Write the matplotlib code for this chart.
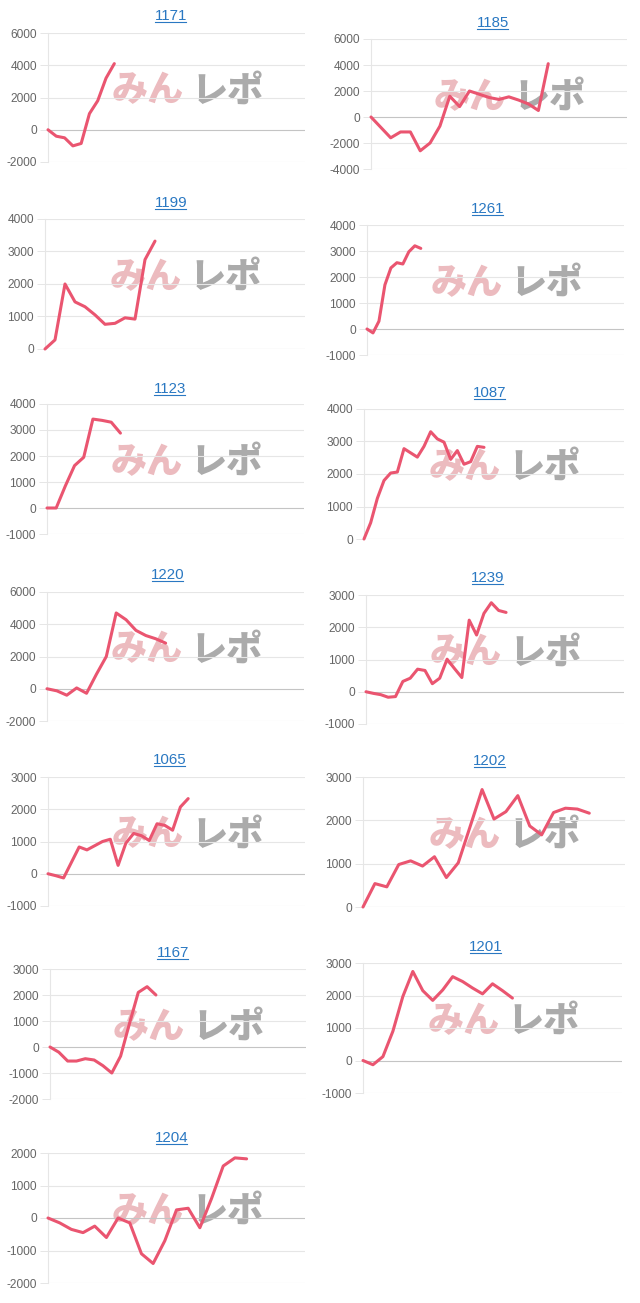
import matplotlib
matplotlib.use("Agg")
import matplotlib.pyplot as plt
from matplotlib.lines import Line2D
from matplotlib.transforms import IdentityTransform

# ---------------- data ----------------
titles = ["1171", "1185", "1199", "1261", "1123", "1087", "1220",
          "1239", "1065", "1202", "1167", "1201", "1204"]

s1171 = [0, -400, -500, -1000, -850, 1000, 1800, 3200, 4100]
s1185 = [0, -800, -1600, -1150, -1150, -2600, -2000, -700, 1600, 800, 2000,
         1750, 1500, 1350, 1550, 1300, 1000, 500, 4100]
s1199 = [0, 280, 2000, 1450, 1300, 1050, 760, 790, 960, 920, 2750, 3320]
s1261 = [0, -150, 300, 1700, 2350, 2550, 2500, 2970, 3200, 3100]
s1123 = [0, 0, 850, 1630, 1950, 3420, 3370, 3300, 2880]
s1087 = [0, 500, 1250, 1800, 2030, 2060, 2780, 2650, 2520, 2850, 3300, 3080,
         2980, 2450, 2720, 2300, 2380, 2850, 2820]
s1220 = [0, -130, -400, 50, -280, 900, 2000, 4700, 4280, 3620, 3300, 3100, 2830]
s1239 = [0, -50, -90, -170, -150, 320, 420, 700, 660, 250, 420, 1010, 720, 440,
         2220, 1760, 2430, 2760, 2520, 2460]
s1065 = [0, -60, -130, 350, 830, 740, 870, 1000, 1070, 260, 950, 1250, 1180,
         1030, 1550, 1500, 1350, 2070, 2330]
s1202 = [0, 540, 465, 980, 1065, 945, 1160, 680, 1020, 1860, 2710, 2030, 2200,
         2570, 1870, 1665, 2180, 2280, 2260, 2165]
s1167 = [0, -200, -540, -540, -450, -500, -720, -1000, -350, 900, 2100, 2320, 2000]
s1201 = [0, -130, 120, 900, 1970, 2740, 2150, 1850, 2170, 2580, 2430, 2230,
         2050, 2360, 2150, 1920]
s1204 = [0, -150, -350, -450, -250, -600, 0, -150, -1100, -1400, -700, 250,
         300, -300, 600, 1600, 1850, 1820]

series = [s1171, s1185, s1199, s1261, s1123, s1087, s1220,
          s1239, s1065, s1202, s1167, s1201, s1204]

# number of category slots on each x axis
slots = [32, 27, 27, 44, 29, 40, 27, 36, 34, 23, 30, 27, 23]

yticks = [
    [-2000, 0, 2000, 4000, 6000],
    [-4000, -2000, 0, 2000, 4000, 6000],
    [0, 1000, 2000, 3000, 4000],
    [-1000, 0, 1000, 2000, 3000, 4000],
    [-1000, 0, 1000, 2000, 3000, 4000],
    [0, 1000, 2000, 3000, 4000],
    [-2000, 0, 2000, 4000, 6000],
    [-1000, 0, 1000, 2000, 3000],
    [-1000, 0, 1000, 2000, 3000],
    [0, 1000, 2000, 3000],
    [-2000, -1000, 0, 1000, 2000, 3000],
    [-1000, 0, 1000, 2000, 3000],
    [-2000, -1000, 0, 1000, 2000],
]

# ---------------- layout (pixels) ----------------
W, H = 640, 1303
# left, right, top, bottom of plot area; title centre x, title baseline y
boxes = [
    (48, 305, 33, 162, 171, 20),
    (371, 627, 39, 169, 493, 27),
    (45, 305, 219, 349, 171, 207),
    (367, 624, 225, 355, 488, 213),
    (47, 304, 404, 534, 170, 393),
    (364, 624, 409, 539, 490, 397),
    (47, 304, 592, 721, 168, 579),
    (366, 624, 595, 724, 488, 582),
    (48, 305, 777, 906, 170, 764),
    (363, 625, 777, 907, 490, 765),
    (50, 306, 969, 1099, 173, 957),
    (363, 622, 963, 1093, 486, 951),
    (48, 305, 1153, 1283, 172, 1142),
]

LINE = "#ea5570"
GRID = "#e6e6e6"
ZERO = "#c4c4c4"
TICK = "#666666"
TITLE = "#2a78c2"

plt.rcParams["font.family"] = ["Liberation Sans", "DejaVu Sans"]

fig = plt.figure(figsize=(W / 100, H / 100), dpi=100)
fig.patch.set_facecolor("white")

title_texts = []
for i, (vals, n, yt, box) in enumerate(zip(series, slots, yticks, boxes)):
    l, r, t, b, tx, ty = box
    ax = fig.add_axes([l / W, 1 - b / H, (r - l) / W, (b - t) / H])
    ax.set_xlim(0, n - 1)
    ax.set_ylim(yt[0], yt[-1])
    ax.set_yticks(yt)
    ax.set_yticklabels([str(v) for v in yt])
    ax.set_xticks([])
    for s in ["top", "right", "bottom"]:
        ax.spines[s].set_visible(False)
    ax.spines["left"].set_color(GRID)
    ax.spines["left"].set_linewidth(0.8)
    ax.tick_params(axis="y", length=6, width=0.7, color=GRID, pad=2,
                   labelsize=8.6, labelcolor=TICK)
    for v in yt:
        ax.axhline(v, color=ZERO if v == 0 else GRID, lw=0.8, zorder=0)

    # watermark
    cx = (l + r) / 2 + 11
    cy = (t + b) / 2 - 7
    fig.text((cx - 40) / W, 1 - cy / H, "みん", ha="center", va="center",
             fontsize=26, fontweight="heavy", color="#ecbbbf",
             family=["Noto Sans CJK JP", "DejaVu Sans"], zorder=1)
    fig.text((cx + 40) / W, 1 - cy / H, "レポ", ha="center", va="center",
             fontsize=26, fontweight="heavy", color="#ababab",
             family=["Noto Sans CJK JP", "DejaVu Sans"], zorder=1)

    ax.patch.set_alpha(0)
    ax.set_zorder(2)
    ax.plot(range(len(vals)), vals, color=LINE, lw=2.2,
            solid_joinstyle="round", solid_capstyle="round", clip_on=False,
            zorder=3)

    tt = fig.text(tx / W, 1 - ty / H, titles[i], ha="center", va="baseline",
                  fontsize=10.8, color=TITLE)
    title_texts.append((tt, ty))

fig.canvas.draw()
rend = fig.canvas.get_renderer()
for tt, ty in title_texts:
    bb = tt.get_window_extent(rend)
    yline = H - ty - 1.5
    fig.add_artist(Line2D([bb.x0 + 0.5, bb.x1 - 1.5], [yline, yline],
                          color=TITLE, lw=0.8, transform=IdentityTransform()))

fig.savefig("out.png", dpi=100, facecolor="white")
